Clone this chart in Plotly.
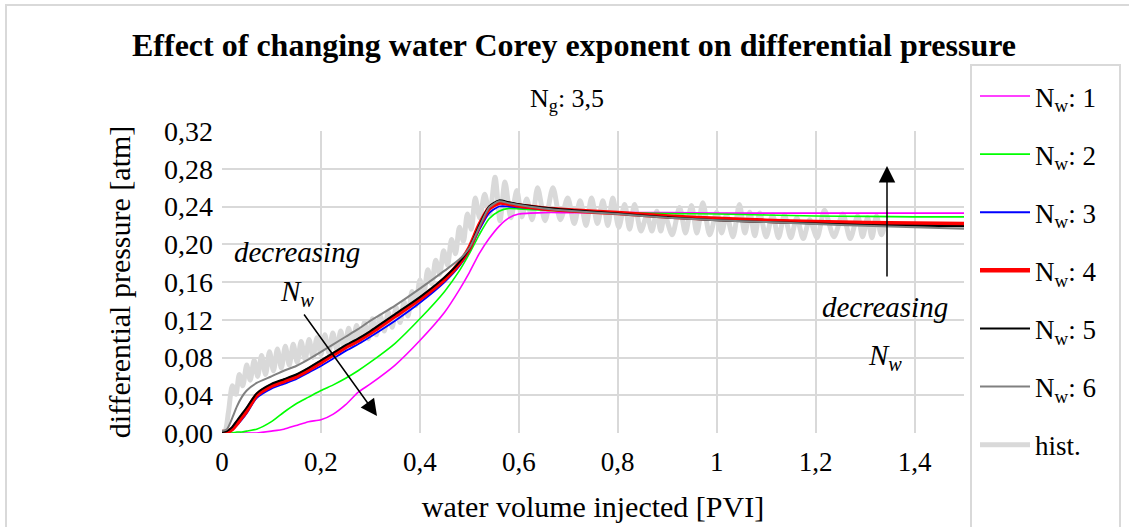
import plotly.graph_objects as go

# ---------------- data ----------------
pvi = [0, 0.01, 0.02, 0.03, 0.04, 0.05, 0.07, 0.1, 0.125, 0.15, 0.175, 0.2, 0.225, 0.25, 0.275, 0.3,
       0.35, 0.4, 0.45, 0.48, 0.5, 0.52, 0.54, 0.56, 0.58, 0.6, 0.65, 0.7, 0.8, 0.9, 1.0, 1.1, 1.2,
       1.3, 1.4, 1.5]

nw1 = [0.000, 0.000, 0.000, 0.000, 0.000, 0.000, 0.000, 0.002, 0.004, 0.008, 0.012, 0.014, 0.020,
       0.030, 0.043, 0.052, 0.072, 0.098, 0.128, 0.152, 0.170, 0.190, 0.206, 0.219, 0.228, 0.232,
       0.2335, 0.2335, 0.2335, 0.2335, 0.233, 0.233, 0.233, 0.233, 0.233, 0.233]
nw2 = [0.000, 0.000, 0.000, 0.001, 0.001, 0.002, 0.004, 0.012, 0.022, 0.031, 0.038, 0.045, 0.051,
       0.058, 0.066, 0.075, 0.095, 0.121, 0.150, 0.172, 0.190, 0.210, 0.227, 0.235, 0.238, 0.2375,
       0.236, 0.235, 0.2335, 0.2325, 0.232, 0.231, 0.230, 0.2295, 0.229, 0.229]
nw3 = [0.001, 0.001, 0.003, 0.008, 0.014, 0.021, 0.037, 0.047, 0.052, 0.057, 0.064, 0.071, 0.079,
       0.087, 0.094, 0.102, 0.119, 0.138, 0.160, 0.177, 0.193, 0.215, 0.233, 0.240, 0.240, 0.239,
       0.237, 0.2355, 0.233, 0.230, 0.2275, 0.2255, 0.224, 0.223, 0.2225, 0.222]
nw4 = [0.001, 0.001, 0.004, 0.010, 0.017, 0.024, 0.040, 0.050, 0.055, 0.060, 0.067, 0.075, 0.083,
       0.091, 0.098, 0.106, 0.124, 0.142, 0.163, 0.180, 0.196, 0.220, 0.238, 0.244, 0.243, 0.241,
       0.238, 0.236, 0.233, 0.2295, 0.227, 0.225, 0.2235, 0.2225, 0.222, 0.2215]
nw5 = [0.001, 0.002, 0.006, 0.013, 0.020, 0.027, 0.042, 0.052, 0.057, 0.062, 0.069, 0.077, 0.085,
       0.093, 0.100, 0.108, 0.126, 0.144, 0.165, 0.181, 0.196, 0.220, 0.240, 0.2465, 0.2445, 0.2425,
       0.239, 0.2365, 0.2325, 0.2285, 0.2255, 0.2235, 0.222, 0.2205, 0.2195, 0.219]
nw6 = [0.002, 0.004, 0.015, 0.028, 0.038, 0.045, 0.053, 0.060, 0.066, 0.071, 0.078, 0.086, 0.094,
       0.102, 0.110, 0.119, 0.135, 0.153, 0.172, 0.184, 0.196, 0.218, 0.239, 0.2455, 0.2435, 0.2415,
       0.238, 0.2355, 0.232, 0.228, 0.2255, 0.2235, 0.2215, 0.2195, 0.218, 0.2165]

hist_x = [0.000, 0.006, 0.013, 0.021, 0.028, 0.035, 0.042, 0.050, 0.057, 0.065, 0.072, 0.080, 0.088,
          0.096, 0.104, 0.112, 0.120, 0.128, 0.136, 0.144, 0.152, 0.160, 0.168, 0.176, 0.184, 0.192,
          0.200, 0.208, 0.216, 0.224, 0.232, 0.240, 0.248, 0.256, 0.264, 0.272, 0.280, 0.288, 0.296,
          0.304, 0.312, 0.320, 0.328, 0.336, 0.344, 0.352, 0.360, 0.368, 0.376, 0.384, 0.392, 0.400,
          0.408, 0.416, 0.424, 0.432, 0.440, 0.448, 0.456, 0.464, 0.472, 0.480, 0.488, 0.496, 0.504,
          0.512, 0.521, 0.531, 0.541, 0.552, 0.562, 0.572, 0.584, 0.596, 0.606, 0.616, 0.627, 0.638,
          0.653, 0.669, 0.684, 0.699, 0.712, 0.724, 0.736, 0.747, 0.759, 0.770, 0.780, 0.790, 0.802,
          0.814, 0.824, 0.834, 0.847, 0.859, 0.869, 0.879, 0.887, 0.895, 0.910, 0.925, 0.937, 0.949,
          0.960, 0.972, 0.986, 1.000, 1.010, 1.020, 1.033, 1.046, 1.057, 1.067, 1.077, 1.087, 1.100,
          1.113, 1.125, 1.137, 1.150, 1.162, 1.175, 1.188, 1.203, 1.218, 1.237, 1.255, 1.270, 1.285,
          1.295, 1.305, 1.314, 1.323, 1.333, 1.340]
hist_y = [0.001, 0.002, 0.022, 0.050, 0.041, 0.062, 0.050, 0.072, 0.056, 0.077, 0.060, 0.082, 0.062,
          0.086, 0.066, 0.089, 0.069, 0.092, 0.072, 0.094, 0.075, 0.097, 0.078, 0.099, 0.080, 0.101,
          0.083, 0.104, 0.085, 0.106, 0.088, 0.108, 0.090, 0.111, 0.094, 0.114, 0.097, 0.117, 0.100,
          0.121, 0.104, 0.124, 0.108, 0.128, 0.112, 0.133, 0.117, 0.139, 0.124, 0.150, 0.135, 0.162,
          0.148, 0.173, 0.158, 0.183, 0.168, 0.193, 0.178, 0.205, 0.190, 0.218, 0.203, 0.232, 0.216,
          0.249, 0.228, 0.253, 0.232, 0.271, 0.225, 0.266, 0.228, 0.257, 0.229, 0.248, 0.226, 0.260,
          0.225, 0.260, 0.226, 0.249, 0.222, 0.246, 0.220, 0.249, 0.222, 0.246, 0.220, 0.249, 0.218,
          0.242, 0.216, 0.242, 0.214, 0.231, 0.214, 0.235, 0.214, 0.231, 0.210, 0.239, 0.212, 0.241,
          0.212, 0.244, 0.210, 0.234, 0.212, 0.231, 0.208, 0.242, 0.212, 0.234, 0.209, 0.233, 0.208,
          0.231, 0.207, 0.231, 0.207, 0.228, 0.206, 0.226, 0.207, 0.236, 0.208, 0.232, 0.206, 0.230,
          0.208, 0.228, 0.207, 0.230, 0.210, 0.220]

x_ticks = [0, 0.2, 0.4, 0.6, 0.8, 1.0, 1.2, 1.4]
y_ticks = [0.00, 0.04, 0.08, 0.12, 0.16, 0.20, 0.24, 0.28, 0.32]

series = [
    ("N<sub>w</sub>: 1", nw1, "#ff00ff", 1.6),
    ("N<sub>w</sub>: 2", nw2, "#00ff00", 1.6),
    ("N<sub>w</sub>: 3", nw3, "#0000ff", 1.8),
    ("N<sub>w</sub>: 4", nw4, "#ff0000", 4.5),
    ("N<sub>w</sub>: 5", nw5, "#000000", 2.0),
    ("N<sub>w</sub>: 6", nw6, "#808080", 2.0),
]

FONT = "Liberation Serif"

fig = go.Figure()
fig.add_trace(go.Scatter(x=hist_x, y=hist_y, mode="lines", name="hist.",
                         line=dict(color="#d9d9d9", width=5, shape="spline", smoothing=0.8),
                         legendrank=7, legendgroup="h"))
for i, (name, ys, col, w) in enumerate(series):
    fig.add_trace(go.Scatter(x=pvi, y=ys, mode="lines", name=name,
                             line=dict(color=col, width=w, shape="spline", smoothing=0.6),
                             legendrank=i + 1, legendgroup="g%d" % i))

# plot area in pixels: x 222..964, y 131..433
L, R, T, B = 222, 1129 - 964, 131, 527 - 433
W = 1129 - L - R
H = 527 - T - B


def px(xp):
    return (xp - L) / W


def py(yp):
    return (527 - B - yp) / H


shapes = [
    dict(type="rect", xref="paper", yref="paper", x0=px(6), x1=px(1140), y0=py(540), y1=py(5),
         line=dict(color="#d9d9d9", width=2), fillcolor="rgba(0,0,0,0)", layer="below"),
    dict(type="rect", xref="paper", yref="paper", x0=px(971), x1=px(1120), y0=py(540), y1=py(65),
         line=dict(color="#d9d9d9", width=2), fillcolor="rgba(0,0,0,0)", layer="below"),
]

annotations = [
    dict(text="<b>Effect of changing water Corey exponent on differential pressure</b>",
         xref="paper", yref="paper", x=px(574), y=py(45), showarrow=False,
         font=dict(family=FONT, size=32, color="black"), xanchor="center", yanchor="middle"),
    dict(text="N<sub>g</sub>: 3,5", xref="paper", yref="paper", x=px(567), y=py(100),
         showarrow=False, font=dict(family=FONT, size=26, color="black"),
         xanchor="center", yanchor="middle"),
    dict(text="<i>decreasing</i>", xref="paper", yref="paper", x=px(297), y=py(252),
         showarrow=False, font=dict(family=FONT, size=29, color="black"),
         xanchor="center", yanchor="middle"),
    dict(text="<i>N<sub>w</sub></i>", xref="paper", yref="paper", x=px(297), y=py(293),
         showarrow=False, font=dict(family=FONT, size=29, color="black"),
         xanchor="center", yanchor="middle"),
    dict(text="<i>decreasing</i>", xref="paper", yref="paper", x=px(885), y=py(307),
         showarrow=False, font=dict(family=FONT, size=29, color="black"),
         xanchor="center", yanchor="middle"),
    dict(text="<i>N<sub>w</sub></i>", xref="paper", yref="paper", x=px(885), y=py(357),
         showarrow=False, font=dict(family=FONT, size=29, color="black"),
         xanchor="center", yanchor="middle"),
    # arrows
    dict(text="", xref="paper", yref="paper", x=px(377), y=py(416), ax=303 - 377, ay=313 - 416,
         showarrow=True, arrowhead=2, arrowsize=2.2, arrowwidth=1.5, arrowcolor="black"),
    dict(text="", xref="paper", yref="paper", x=px(887), y=py(166), ax=0, ay=278 - 166,
         showarrow=True, arrowhead=2, arrowsize=2.2, arrowwidth=1.5, arrowcolor="black"),
]

fig.update_layout(
    width=1129, height=527,
    margin=dict(l=L, r=R, t=T, b=B, autoexpand=False),
    paper_bgcolor="white", plot_bgcolor="white",
    separators=", ",
    font=dict(family=FONT, size=27, color="black"),
    showlegend=True,
    legend=dict(x=px(975), y=py(72), xanchor="left", yanchor="top",
                font=dict(family=FONT, size=27, color="black"),
                bgcolor="rgba(0,0,0,0)", borderwidth=0, tracegroupgap=20,
                itemwidth=50, maxheight=600),
    xaxis=dict(range=[0, 1.5], tickvals=x_ticks, showgrid=True, gridcolor="#d9d9d9",
               gridwidth=1.5, zeroline=False, showline=False, ticks="",
               ticklabelstandoff=10, tickfont=dict(family=FONT, size=27),
               title=dict(text="water volume injected [PVI]", standoff=19,
                          font=dict(family=FONT, size=30))),
    yaxis=dict(range=[0, 0.32], tickvals=y_ticks, tickformat=".2f", showgrid=True,
               gridcolor="#d9d9d9", gridwidth=1.5, zeroline=False, showline=False, ticks="",
               ticklabelstandoff=8, tickfont=dict(family=FONT, size=28),
               title=dict(text="differential pressure [atm]", standoff=24,
                          font=dict(family=FONT, size=30))),
    shapes=shapes,
    annotations=annotations,
)

fig.write_html("out.html")
